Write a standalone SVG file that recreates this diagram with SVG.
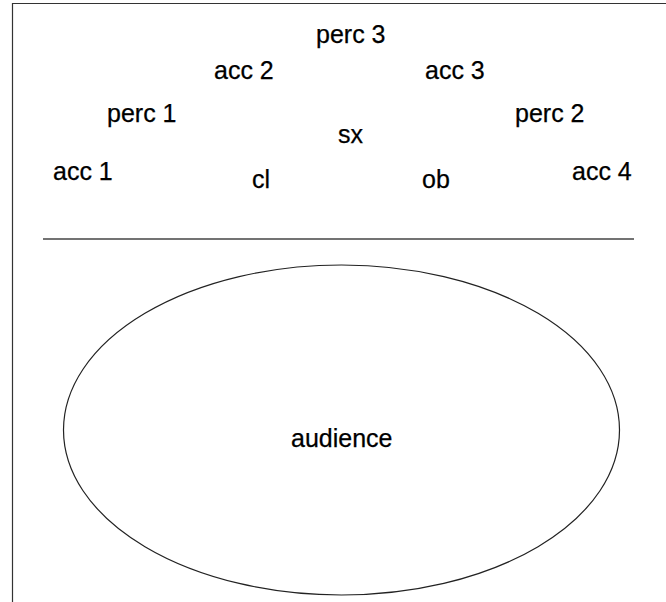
<svg xmlns="http://www.w3.org/2000/svg" width="666" height="602" viewBox="0 0 666 602">
  <style>
    .lbl { font-family: "Liberation Sans", Arial, Helvetica, sans-serif; font-size: 25px; fill: #000; stroke: #000; stroke-width: 0.25; }
    .frame { stroke: #333; stroke-width: 1.2; fill: none; }
    .rule { stroke: #444; stroke-width: 1.3; fill: none; }
    .area { stroke: #222; stroke-width: 1.2; fill: none; }
  </style>
  <rect x="0" y="0" width="666" height="602" fill="#fff"/>
  <!-- page frame (top and left edges) -->
  <path class="frame" d="M12.5 602 V3.5 H666"/>

  <!-- players -->
  <g id="perc3"><text class="lbl" x="316" y="43">perc 3</text></g>
  <g id="acc2"><text class="lbl" x="214" y="79">acc 2</text></g>
  <g id="acc3"><text class="lbl" x="425" y="79">acc 3</text></g>
  <g id="perc1"><text class="lbl" x="107" y="122">perc 1</text></g>
  <g id="perc2"><text class="lbl" x="515" y="122">perc 2</text></g>
  <g id="sx"><text class="lbl" x="338" y="143">sx</text></g>
  <g id="acc1"><text class="lbl" x="53" y="180">acc 1</text></g>
  <g id="cl"><text class="lbl" x="252" y="188">cl</text></g>
  <g id="ob"><text class="lbl" x="422" y="188">ob</text></g>
  <g id="acc4"><text class="lbl" x="572" y="180">acc 4</text></g>

  <!-- stage edge -->
  <g id="connectors">
    <line class="rule" x1="43" y1="239" x2="634" y2="239"/>
  </g>

  <!-- audience area -->
  <g id="audience">
    <ellipse class="area" cx="341.5" cy="430" rx="278" ry="165"/>
    <text class="lbl" x="291" y="447">audience</text>
  </g>
</svg>
